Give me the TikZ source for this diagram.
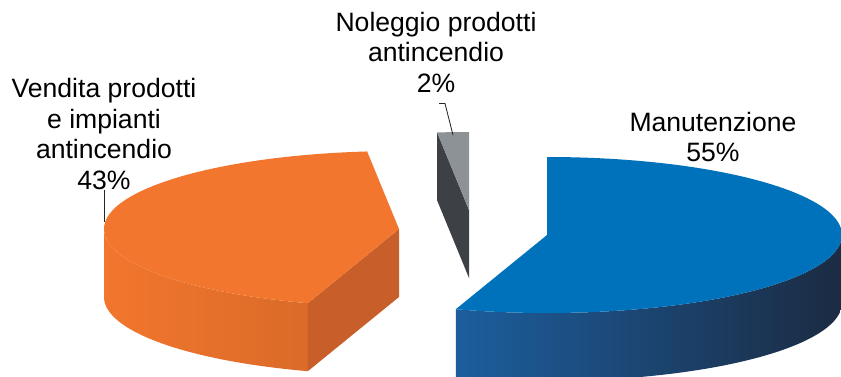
\documentclass[tikz,border=0pt]{standalone}
\usepackage{fontspec}
\setmainfont{Liberation Sans}
\definecolor{MyBlue}{HTML}{0071BB}
\definecolor{MyBlueSide}{HTML}{1C5E9E}
\definecolor{MyBlueMid}{HTML}{03406F}
\definecolor{MyNavy}{HTML}{1B2B42}
\definecolor{MyOrange}{HTML}{F2762D}
\definecolor{MyOrangeDark}{HTML}{C85F2A}
\definecolor{MyGrey}{HTML}{8D9296}
\definecolor{MyGreyDark}{HTML}{3D4145}

\begin{document}
\begin{tikzpicture}[x=0.025cm, y=0.025cm, every node/.style={font=\fontsize{18.9}{21.7}\selectfont, align=center, inner sep=0pt, black}, leader/.style={black!85, line width=0.6pt}, rim/.style={x radius=295, y radius=78}]
			\clip (0,0) rectangle (841,-376);
			
			\fill[MyGreyDark] (469,-210) -- ++(96.2:295 and 78) -- ++(0,-68) -- (469,-278) -- cycle;
			\fill[MyGrey] (469,-210) -- ++(90:295 and 78) arc[start angle=90, end angle=96.2, rim] -- cycle;
			
			\shade[left color=MyOrange, right color=MyOrange!86!black] (399,-229) ++(180:295 and 78) arc[start angle=180, end angle=252, rim] -- ++(0,-68) arc[start angle=252, end angle=180, rim] -- cycle;
			\fill[MyOrangeDark] (399,-229) -- ++(252:295 and 78) -- ++(0,-68) -- (399,-297) -- cycle;
			\fill[MyOrange] (399,-229) -- ++(96.2:295 and 78) arc[start angle=96.2, end angle=252, rim] -- cycle;
			
			\shade[left color=MyBlueSide, middle color=MyBlueMid, right color=MyNavy] (547,-235) ++(252:295 and 78) arc[start angle=252, end angle=360, rim] -- ++(0,-68) arc[start angle=360, end angle=252, rim] -- cycle;
			\fill[MyBlue] (547,-235) -- ++(90:295 and 78) arc[start angle=90, end angle=-108, rim] -- cycle;
			
			\node (lblVendita) at (104,-134) {Vendita prodotti\\e impianti\\antincendio\\43\%};
			\node (lblNoleggio) at (436,-52) {Noleggio prodotti\\antincendio\\2\%};
			\node (lblManut) at (713,-137) {Manutenzione\\55\%};
			
			\coordinate (oTip) at (104,-222);
			\coordinate (gTip) at (453,-135);
			\draw[leader] (lblVendita.south) -- (oTip);
			\draw[leader] (lblNoleggio.south) ++(3,-11) -- ++(6,0) -- (gTip);
		\end{tikzpicture}
\end{document}
